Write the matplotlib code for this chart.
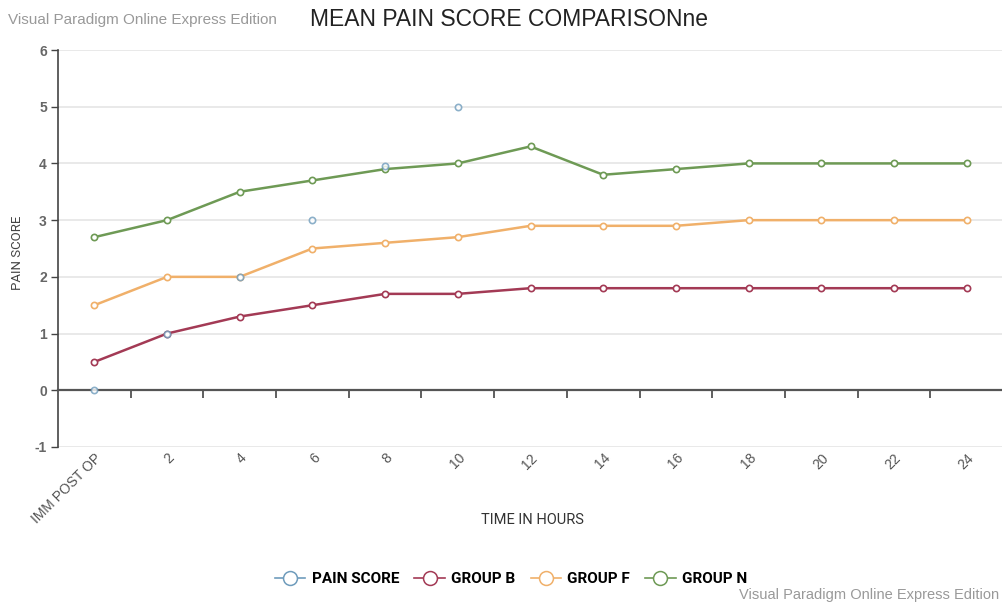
import matplotlib
matplotlib.use("Agg")
import matplotlib.pyplot as plt
from matplotlib.lines import Line2D
import matplotlib.transforms as mtransforms

categories = ["IMM POST OP", "2", "4", "6", "8", "10", "12", "14", "16", "18", "20", "22", "24"]
pain_score = [0, 1, 2, 3, 3.95, 5]
group_b = [0.5, 1.0, 1.3, 1.5, 1.7, 1.7, 1.8, 1.8, 1.8, 1.8, 1.8, 1.8, 1.8]
group_f = [1.5, 2.0, 2.0, 2.5, 2.6, 2.7, 2.9, 2.9, 2.9, 3.0, 3.0, 3.0, 3.0]
group_n = [2.7, 3.0, 3.5, 3.7, 3.9, 4.0, 4.3, 3.8, 3.9, 4.0, 4.0, 4.0, 4.0]
y_ticks = [-1, 0, 1, 2, 3, 4, 5, 6]

c_pain = "#6f9cbc"
c_b = "#a33a55"
c_f = "#f0b06a"
c_n = "#6e9a55"

plt.rcParams['font.family'] = ['Liberation Sans', 'DejaVu Sans']
narrow = ['Liberation Sans Narrow', 'Roboto', 'Liberation Sans', 'DejaVu Sans']

fig = plt.figure(figsize=(10.03, 6.03), dpi=100)
ax = fig.add_axes([58 / 1003, 1 - 447 / 603, 1 - 58 / 1003, (447 - 50) / 603])

x = list(range(len(categories)))
mk = dict(marker='o', markersize=4.5, markerfacecolor='white', markeredgewidth=1.2)
ax.plot(x, group_n, color=c_n, lw=1.8, zorder=3, **mk)
ax.plot(x, group_f, color=c_f, lw=1.8, zorder=3, **mk)
ax.plot(x, group_b, color=c_b, lw=1.8, zorder=3, **mk)
ax.plot(x[:len(pain_score)], pain_score, color=c_pain, lw=0, zorder=4, alpha=0.8, **mk)

ax.set_xlim(-0.5, len(categories) - 0.5)
ax.set_ylim(-1, 6)
ax.set_yticks(y_ticks)
ax.set_yticklabels([str(v) for v in y_ticks], color="#666666", fontweight='bold', fontsize=10)
ax.tick_params(axis='y', length=5, width=1, color="#444444", pad=3)
for v in y_ticks:
    if v != 0:
        ax.axhline(v, color="#e3e3e3", lw=1.1, zorder=1)

for s in ['top', 'right']:
    ax.spines[s].set_visible(False)
ax.spines['left'].set_color("#444444")
ax.spines['left'].set_linewidth(1.2)
ax.spines['bottom'].set_position(('data', 0))
ax.spines['bottom'].set_color("#555555")
ax.spines['bottom'].set_linewidth(1.6)
ax.set_xticks([i + 0.5 for i in x])
ax.set_xticklabels([])
ax.tick_params(axis='x', length=6, width=1.2, color="#444444", direction='out')

trans = ax.get_xaxis_transform() + mtransforms.ScaledTranslation(5 / 100, 0, fig.dpi_scale_trans)
for i, lab in enumerate(categories):
    ax.text(i, -0.022, lab, transform=trans, rotation=45, rotation_mode='anchor',
            ha='right', va='center', fontsize=10, color="#555555")

fig.text(532 / 1003, 1 - 520 / 603, "TIME IN HOURS", ha='center', va='center',
         fontsize=10.5, color="#333333", family=narrow)
fig.text(18 / 1003, 1 - 253 / 603, "PAIN SCORE", ha='center', va='center', rotation=90,
         fontsize=9.5, color="#444444", family=narrow)

fig.text(310 / 1003, 1 - 20 / 603, "MEAN PAIN SCORE COMPARISONne", ha='left', va='center',
         fontsize=16.5, color="#222222")
fig.text(8 / 1003, 1 - 20 / 603, "Visual Paradigm Online Express Edition", ha='left', va='center',
         fontsize=11, color="#999999")
fig.text(999 / 1003, 1 - 595 / 603, "Visual Paradigm Online Express Edition", ha='right', va='center',
         fontsize=10.5, color="#999999")

handles = [Line2D([], [], color=c, lw=1.2, marker='o', markersize=10, markerfacecolor='white',
                  markeredgewidth=1.1) for c in [c_pain, c_b, c_f, c_n]]
fig.legend(handles, ["PAIN SCORE", "GROUP B", "GROUP F", "GROUP N"], ncol=4, loc='center',
           bbox_to_anchor=(511 / 1003, 1 - 579 / 603), frameon=False, handlelength=2.0,
           handletextpad=0.4, columnspacing=1.0,
           prop=dict(family=narrow, weight='bold', size=11))

fig.savefig("out.png", dpi=100)
